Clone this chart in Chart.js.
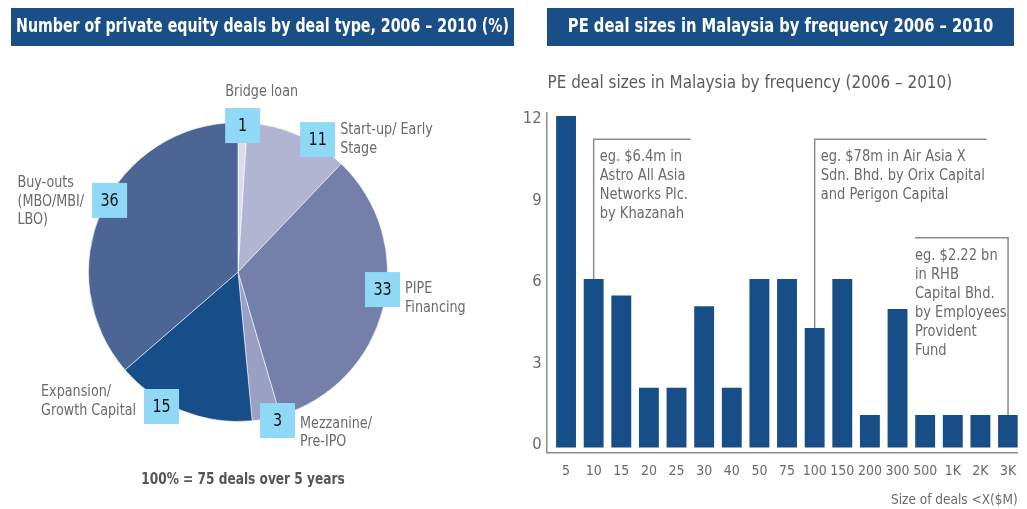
<!DOCTYPE html>
<html>
<head>
<meta charset="utf-8">
<script src="https://cdn.jsdelivr.net/npm/chart.js@4.4.1/dist/chart.umd.min.js"></script>
<style>
  html, body { margin: 0; padding: 0; background: #fff; }
  #wrap { position: relative; width: 1027px; height: 509px; }
  .box { position: absolute; top: 0; height: 509px; }
</style>
</head>
<body>
<div id="wrap">
  <div class="box" style="left:0;width:520px"><canvas id="pie"></canvas></div>
  <div class="box" style="left:520px;width:507px"><canvas id="bars"></canvas></div>
</div>
<script>
"use strict";
// pie: deal types, clockwise from 12 o'clock
const dealTypes = ["Bridge loan", "Start-up/ Early Stage", "PIPE Financing", "Mezzanine/ Pre-IPO", "Expansion/ Growth Capital", "Buy-outs (MBO/MBI/ LBO)"];
const dealTypeLines = [["Bridge loan"], ["Start-up/ Early", "Stage"], ["PIPE", "Financing"], ["Mezzanine/", "Pre-IPO"], ["Expansion/", "Growth Capital"], ["Buy-outs", "(MBO/MBI/", "LBO)"]];
const dealShares = [1, 11, 33, 3, 15, 36];
const sliceColors = ["#dcdde9", "#b1b5d1", "#7480a9", "#9aa0c3", "#174e87", "#4b6595"];

// bars: number of deals by size bucket
const sizeLabels = ["5", "10", "15", "20", "25", "30", "40", "50", "75", "100", "150", "200", "300", "500", "1K", "2K", "3K"];
const dealCounts = [12, 6, 5.4, 2, 2, 5, 2, 6, 6, 4.2, 6, 1, 4.9, 1, 1, 1, 1];
const countTicks = [0, 3, 6, 9, 12];

// callouts on the bar chart
const noteBar = [1, 9, 16];
const noteLines = [
  ["eg. $6.4m in", "Astro All Asia", "Networks Plc.", "by Khazanah"],
  ["eg. $78m in Air Asia X", "Sdn. Bhd. by Orix Capital", "and Perigon Capital"],
  ["eg. $2.22 bn", "in RHB", "Capital Bhd.", "by Employees", "Provident", "Fund"]
];
const noteTop = [11.14, 11.14, 7.52];
const noteReach = [3.51, 6.23, -3.37];

// label layout for the pie (angle nudge in degrees, radius, side, vertical shift)
const labelNudge = [0, 7.4, -6.7, -4, 7.8, 4.6];
const labelRadius = [146.5, 154.5, 145.6, 153.7, 154.7, 147];
const labelSide = ["top", "right", "right", "right", "left", "left"];
const labelShift = [0, -0.5, 8.5, 12, -5.5, 1];

const FONT = "'Liberation Sans Narrow', 'DejaVu Sans Condensed', 'Roboto Condensed', sans-serif";
const GREY = "#6a6a6a";
const NAVY = "#174e87";

// the original face is narrower than anything installed, so squeeze it a bit
function narrowText(ctx, text, x, y, sx) {
    ctx.fillText(text, x, y, ctx.measureText(text).width * sx);
}

function headerBar(ctx, x1, x2, text) {
    ctx.save();
    ctx.fillStyle = "#1a4e86";
    ctx.fillRect(x1, 8, x2 - x1, 38);
    ctx.fillStyle = "#fff";
    ctx.font = "bold 20px " + FONT;
    ctx.textAlign = "center";
    ctx.textBaseline = "middle";
    ctx.fillText(text, (x1 + x2) / 2, 27, Math.min(ctx.measureText(text).width * 0.82, x2 - x1 - 10));
    ctx.restore();
}

const pieLabels = {
    id: "pieLabels",
    afterDraw(chart) {
        const ctx = chart.ctx;
        headerBar(ctx, 11, 514, "Number of private equity deals by deal type, 2006 – 2010 (%)");
        const arcs = chart.getDatasetMeta(0).data;
        ctx.save();
        arcs.forEach((arc, i) => {
            const mid = (arc.startAngle + arc.endAngle) / 2 + labelNudge[i] * Math.PI / 180;
            const cx = arc.x + Math.cos(mid) * labelRadius[i];
            const cy = arc.y + Math.sin(mid) * labelRadius[i];
            const s = 35;
            ctx.fillStyle = "#8fd8f6";
            ctx.fillRect(cx - s / 2, cy - s / 2, s, s);
            ctx.fillStyle = "#111";
            ctx.font = "18.5px " + FONT;
            ctx.textAlign = "center";
            ctx.textBaseline = "middle";
            narrowText(ctx, String(dealShares[i]), cx, cy + 1, 0.86);

            // category name next to the box
            const lines = dealTypeLines[i];
            const lh = 18.5;
            const sx = 0.86;
            ctx.font = "16.5px " + FONT;
            ctx.fillStyle = GREY;
            ctx.textAlign = "left";
            const w = Math.max(...lines.map(l => ctx.measureText(l).width)) * sx;
            let x, y0;
            if (labelSide[i] === "top") {
                x = cx - s / 2;
                y0 = cy - s / 2 - 16;
            } else {
                x = labelSide[i] === "right" ? cx + s / 2 + 5 : cx - s / 2 - 8 - w;
                y0 = cy + labelShift[i] - (lines.length - 1) * lh / 2;
            }
            lines.forEach((l, k) => narrowText(ctx, l, x, y0 + k * lh, sx));
        });
        ctx.font = "bold 16.5px " + FONT;
        ctx.fillStyle = "#555";
        ctx.textAlign = "center";
        narrowText(ctx, "100% = 75 deals over 5 years", 243, 480, 0.82);
        ctx.restore();
    }
};

const barNotes = {
    id: "barNotes",
    afterDraw(chart) {
        const ctx = chart.ctx;
        const xs = chart.scales.x;
        const ys = chart.scales.y;
        headerBar(ctx, 27, 494, "PE deal sizes in Malaysia by frequency 2006 – 2010");
        ctx.save();
        ctx.fillStyle = "#5b5b5b";
        ctx.font = "18px " + FONT;
        ctx.textAlign = "left";
        ctx.textBaseline = "middle";
        narrowText(ctx, "PE deal sizes in Malaysia by frequency (2006 – 2010)", 27.5, 83, 0.94);

        noteBar.forEach((idx, n) => {
            const x = xs.getPixelForValue(idx);
            const yBar = ys.getPixelForValue(dealCounts[idx]);
            const yTop = ys.getPixelForValue(noteTop[n]);
            const xEnd = xs.getPixelForValue(idx + noteReach[n]);
            ctx.strokeStyle = "#8c8c8c";
            ctx.lineWidth = 1.5;
            ctx.beginPath();
            ctx.moveTo(x, yBar);
            ctx.lineTo(x, yTop);
            ctx.lineTo(xEnd, yTop);
            ctx.stroke();
            const tx = noteReach[n] > 0 ? x + 6 : xEnd;
            ctx.font = "16.5px " + FONT;
            ctx.fillStyle = GREY;
            ctx.textBaseline = "alphabetic";
            noteLines[n].forEach((l, k) => narrowText(ctx, l, tx, yTop + 22 + k * 19, 0.88));
        });
        ctx.restore();
    }
};

new Chart(document.getElementById("pie"), {
    type: "pie",
    data: {
        labels: dealTypes,
        datasets: [{
            data: dealShares,
            backgroundColor: sliceColors,
            borderColor: "rgba(255,255,255,0.55)",
            borderWidth: 1
        }]
    },
    options: {
        responsive: true,
        maintainAspectRatio: false,
        animation: false,
        layout: { padding: { left: 88, right: 132, top: 122, bottom: 87 } },
        plugins: { legend: { display: false }, tooltip: { enabled: false } }
    },
    plugins: [pieLabels]
});

new Chart(document.getElementById("bars"), {
    type: "bar",
    data: {
        datasets: [{
            data: dealCounts.map((v, i) => ({ x: i, y: v })),
            backgroundColor: NAVY,
            base: -0.195,
            barPercentage: 0.72,
            categoryPercentage: 1
        }]
    },
    options: {
        responsive: true,
        maintainAspectRatio: false,
        animation: false,
        layout: { padding: { left: 0, right: 9.3, top: 113, bottom: 0 } },
        plugins: { legend: { display: false }, tooltip: { enabled: false } },
        scales: {
            x: {
                type: "linear",
                min: -0.7,
                max: 16.35,
                offset: false,
                grid: { display: false, drawTicks: false, offset: false },
                border: { color: "#8c8c8c", width: 1.5 },
                afterBuildTicks: a => { a.ticks = sizeLabels.map((_, i) => ({ value: i })); },
                afterFit: a => { a.height = 56.3; },
                ticks: {
                    callback: v => sizeLabels[v],
                    color: GREY,
                    font: { family: FONT, size: 14 },
                    padding: 10,
                    maxRotation: 0,
                    autoSkip: false
                },
                title: {
                    display: true,
                    text: "Size of deals <X($M)",
                    align: "end",
                    color: GREY,
                    font: { family: FONT, size: 13.5 },
                    padding: 0
                }
            },
            y: {
                min: -0.386,
                max: 12.11,
                grid: { display: false, drawTicks: false },
                border: { color: "#8c8c8c", width: 1.5 },
                afterBuildTicks: a => { a.ticks = countTicks.map(v => ({ value: v })); },
                afterFit: a => { a.width = 26.7; },
                ticks: {
                    color: GREY,
                    font: { family: FONT, size: 16.5 },
                    padding: 5,
                    labelOffset: 3
                }
            }
        }
    },
    plugins: [barNotes]
});
</script>
</body>
</html>
